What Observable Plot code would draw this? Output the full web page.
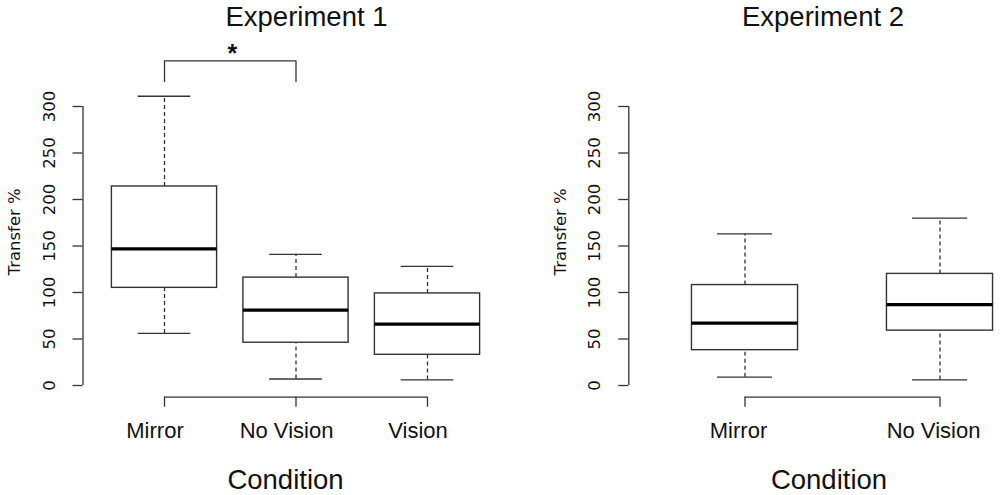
<!DOCTYPE html>
<html><head><meta charset="utf-8">
<script src="https://cdn.jsdelivr.net/npm/d3@7"></script>
<script src="https://cdn.jsdelivr.net/npm/@observablehq/plot@0.6"></script>
<style>
body{margin:0;background:#fff}
#wrap{position:relative;width:1000px;height:495px;overflow:hidden;background:#fff}
</style></head><body><div id="wrap"></div>
<script>
// ---- data ----
const exp1Title = "Experiment 1";
const exp1Conditions = ["Mirror", "No Vision", "Vision"];
const exp1Min    = [56, 7, 6];
const exp1Q1     = [105, 46, 33];
const exp1Median = [147, 81, 66];
const exp1Q3     = [214, 116, 99];
const exp1Max    = [311, 141, 128];

const exp2Title = "Experiment 2";
const exp2Conditions = ["Mirror", "No Vision"];
const exp2Min    = [9, 6];
const exp2Q1     = [38, 59];
const exp2Median = [67, 87];
const exp2Q3     = [108, 120];
const exp2Max    = [163, 180];

const yTicks = [0, 50, 100, 150, 200, 250, 300];
const yLabel = "Transfer %";
const xLabel = "Condition";

// significance bracket (Experiment 1, Mirror vs No Vision)
const sigX = [1, 1, 2, 2];
const sigY = [327, 349, 349, 327];
const sigStar = {x: 1.5, y: 349, text: "*"};

// ---- layout ----
const H = 495;
const yPx0 = 385, yPx300 = 106, axisPxY = 396.7;
const pxPerUnit = (yPx0 - yPx300) / 300;
const yBelow = -(axisPxY - yPx0) / pxPerUnit;
const STROKE = "#333";

function panel(cfg) {
  const rows = cfg.conditions.map((c, k) => ({
    i: k + 1, c,
    min: cfg.min[k], q1: cfg.q1[k], med: cfg.median[k], q3: cfg.q3[k], max: cfg.max[k]
  }));
  const n = rows.length;
  const xFrameLeft = 1 - (cfg.x1px - cfg.axisLeft) / cfg.step;
  const hw = cfg.boxHalf, cw = cfg.capHalf;
  const marks = [
    // whiskers
    Plot.ruleX(rows, {x: "i", y1: "q3", y2: "max", stroke: STROKE, strokeWidth: 1.3, strokeDasharray: "4,3"}),
    Plot.ruleX(rows, {x: "i", y1: "min", y2: "q1", stroke: STROKE, strokeWidth: 1.3, strokeDasharray: "4,3"}),
    Plot.ruleY(rows, {y: "max", x1: d => d.i - cw, x2: d => d.i + cw, stroke: STROKE, strokeWidth: 1.3}),
    Plot.ruleY(rows, {y: "min", x1: d => d.i - cw, x2: d => d.i + cw, stroke: STROKE, strokeWidth: 1.3}),
    // boxes
    Plot.rect(rows, {x1: d => d.i - hw, x2: d => d.i + hw, y1: "q1", y2: "q3", fill: "white", stroke: STROKE, strokeWidth: 1.4}),
    Plot.ruleY(rows, {y: "med", x1: d => d.i - hw, x2: d => d.i + hw, stroke: "#000", strokeWidth: 3.2}),
    // y axis
    Plot.ruleX([xFrameLeft], {y1: yTicks[0], y2: yTicks[yTicks.length - 1], stroke: STROKE, strokeWidth: 1.3}),
    Plot.axisY({ticks: yTicks, tickSize: 10, tickRotate: -90, tickPadding: 18.5, fontSize: 16.5,
                fontFamily: "DejaVu Sans", stroke: STROKE, strokeWidth: 1.3, fill: "#111", label: null}),
    Plot.text([yLabel], {frameAnchor: "left", textAnchor: "middle", lineAnchor: "middle", rotate: -90,
                dx: 14 - cfg.axisLeft, dy: -20, fontSize: 16.5, fontFamily: "DejaVu Sans", fill: "#111"}),
    // x axis
    Plot.ruleY([yBelow], {x1: 1, x2: n, stroke: STROKE, strokeWidth: 1.3}),
    Plot.axisX({ticks: rows.map(d => d.i), tickSize: 10, stroke: STROKE, strokeWidth: 1.3, fill: "none", label: null}),
    Plot.text(rows, {x: "i", text: "c", frameAnchor: "bottom", textAnchor: "middle", lineAnchor: "bottom", dy: 40.5, dx: cfg.labelDx,
                fontSize: 22, fontFamily: "Liberation Sans", fill: "#111"}),
    Plot.text([xLabel], {x: () => (1 + n) / 2, frameAnchor: "bottom", textAnchor: "middle", lineAnchor: "bottom", dy: 488 - axisPxY, dx: cfg.condDx,
                fontSize: 27.5, fontFamily: "Liberation Sans", fill: "#111"}),
    // title
    Plot.text([cfg.title], {x: () => (1 + n) / 2, frameAnchor: "top", textAnchor: "middle", lineAnchor: "bottom", dy: 25 - yPx300, dx: cfg.titleDx,
                fontSize: 27.5, fontFamily: "Liberation Sans", fill: "#111"})
  ];
  if (cfg.sig) {
    marks.push(Plot.line(cfg.sig.x.map((x, k) => ({x, y: cfg.sig.y[k]})), {x: "x", y: "y", stroke: STROKE, strokeWidth: 1.3}));
    marks.push(Plot.text([cfg.sig.star], {x: "x", y: "y", text: "text", lineAnchor: "bottom", dx: 2, dy: 1,
                fontSize: 25, fontWeight: "bold", fontFamily: "Liberation Sans", fill: "#111"}));
  }
  return Plot.plot({
    width: cfg.width, height: H,
    marginLeft: cfg.axisLeft, marginRight: 0, marginTop: yPx300, marginBottom: H - axisPxY,
    x: {type: "linear", domain: [1, 2], range: [cfg.x1px, cfg.x1px + cfg.step]},
    y: {type: "linear", domain: [0, 300], range: [yPx0, yPx300]},
    style: `position:absolute;left:${cfg.left}px;top:0;overflow:visible;background:transparent;color:#111;font-family:'Liberation Sans'`,
    marks
  });
}

const wrap = document.getElementById("wrap");
wrap.appendChild(panel({
  left: 0, width: 546, title: exp1Title, conditions: exp1Conditions,
  min: exp1Min, q1: exp1Q1, median: exp1Median, q3: exp1Q3, max: exp1Max,
  x1px: 164, step: 131.5, axisLeft: 82.5, boxHalf: 0.4, capHalf: 0.2,
  labelDx: -9.5, condDx: -10.5, titleDx: 10.5,
  sig: {x: sigX, y: sigY, star: sigStar}
}));
wrap.appendChild(panel({
  left: 546, width: 454, title: exp2Title, conditions: exp2Conditions,
  min: exp2Min, q1: exp2Q1, median: exp2Median, q3: exp2Q3, max: exp2Max,
  x1px: 198.5, step: 195, axisLeft: 82.3, boxHalf: 0.272, capHalf: 0.141,
  labelDx: -6.5, condDx: -13.5, titleDx: -19.5
}));
</script></body></html>
